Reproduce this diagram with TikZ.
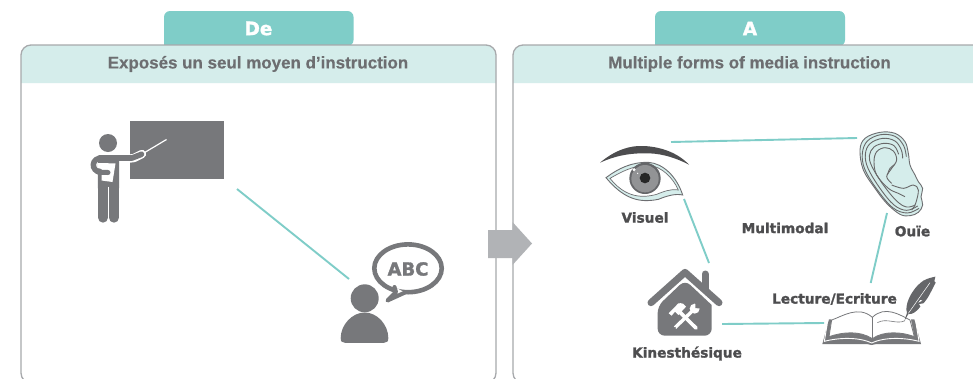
\documentclass[tikz,border=0pt]{standalone}
\usepackage{fontspec}
\setmainfont[BoldFeatures={FakeBold=0.35}]{Liberation Sans}
\newfontfamily\wide[BoldFeatures={FakeBold=1.6}]{DejaVu Sans}
\definecolor{teal}{HTML}{7FCDC8}
\definecolor{pale}{HTML}{D5EDEB}
\definecolor{frame}{HTML}{A7A9AC}
\definecolor{icon}{HTML}{77787B}
\definecolor{darktext}{HTML}{4D4D4F}
\definecolor{titletext}{HTML}{6D6E71}
\definecolor{arrowgrey}{HTML}{B1B3B6}
\tikzset{
  link/.style={draw=teal,line width=1.9pt},
  panel/.style={draw=frame,line width=1.3pt,rounded corners=10pt},
  tabshape/.style={fill=teal,rounded corners=6pt},
  tabtext/.style={text=white,font=\wide\fontsize{18.5}{20}\selectfont\bfseries,inner sep=0pt},
  titlelabel/.style={text=titletext,font=\fontsize{16.95}{18}\selectfont\bfseries,inner sep=0pt},
  iconlabel/.style={text=darktext,font=\wide\fontsize{13.7}{15}\selectfont\bfseries,inner sep=0pt},
  zoomframe/.style n args={2}{shift={(#1,#2)},x=0.33333pt,y=-0.33333pt},
  earline/.style={draw=darktext!85,line width=0.9pt}
}
\begin{document}
\begin{tikzpicture}[x=1pt,y=-1pt]
\useasboundingbox (0,0) rectangle (973,378);
\clip (0,0) rectangle (973,378);
\fill[white] (0,0) rectangle (973,378);
% tabs
\fill[tabshape] (164,46) -- (164,11) -- (353.5,11) -- (353.5,46) [sharp corners] -- cycle;
\fill[tabshape] (655,46) -- (655,11) -- (845,11) -- (845,46) [sharp corners] -- cycle;
\node[tabtext] (detab) at (258.5,28.5) {De};
\node[tabtext] (atab) at (750,28.5) {A};
% header bands
\fill[pale,rounded corners=10pt] (21,83) [sharp corners] -- (21,60) [rounded corners=10pt] -- (21,45) -- (496,45) [sharp corners] -- (496,60) -- (496,83) -- cycle;
\fill[pale,rounded corners=10pt] (513,83) [sharp corners] -- (513,60) [rounded corners=10pt] -- (513,45) -- (995,45) [sharp corners] -- (995,83) -- cycle;
% panels
\draw[panel] (21,45) rectangle (496,383);
\draw[panel] (513,45) rectangle (995,383);
\node[titlelabel] (lefttitle) at (258,64) {Exposés un seul moyen d’instruction};
\node[titlelabel] (righttitle) at (749.5,64) {Multiple forms of media instruction};
% central arrow
\fill[arrowgrey] (488,230) -- (512.5,230) -- (512.5,222) -- (532,243.5) -- (512.5,265) -- (512.5,258) -- (488,258) -- cycle;
% teacher
\fill[icon] (129.7,120.7) rectangle (223.7,179);
\draw[white,line width=1.2pt] (143,153.5) -- (166.5,139.5);
\draw[white,line width=8.3pt,line cap=round,line join=round] (130,158.5) -- (134,158) -- (142,154);
\fill[icon] (108,143) circle[radius=9];
\draw[icon,line width=5.6pt,line cap=round,line join=round] (112,158) -- (132,158) -- (141.5,154.3);
\draw[icon,line width=10.4pt,line cap=round] (103,180) -- (103,217.5);
\draw[icon,line width=10.4pt,line cap=round] (113.8,180) -- (113.8,217.5);
\fill[icon,rounded corners=2pt] (97.8,155) -- (119,155) -- (119,190) -- (97.8,190) -- cycle;
\draw[icon,line width=5.5pt,line cap=round] (103,158) .. controls (91,157) and (90,171) .. (101,172.5);
\fill[white] (101.5,163) -- (115.5,163.5) -- (112.5,182) -- (101.5,180.5) -- cycle;
\fill[white] (97.5,163) -- (101.8,163) -- (101.8,169) -- (97.5,168) -- cycle;
\draw[icon,line width=5pt,line cap=round] (99,172.3) -- (108,172.5);
\draw[white,line width=1.1pt] (108.4,186.5) -- (108.4,224);
% student
\fill[icon] (364.7,298.3) circle[radius=14];
\fill[icon] (340.7,338) .. controls (340.7,325) and (352,312.5) .. (364.7,312.5) .. controls (377.5,312.5) and (388.3,325) .. (388.3,338) .. controls (388.3,341.5) and (387,342.8) .. (384,342.8) -- (345,342.8) .. controls (342,342.8) and (340.7,341.5) .. (340.7,338) -- cycle;
\draw[icon,line width=4.6pt] (408,268.3) ellipse[x radius=33.7,y radius=23.9];
\draw[icon,fill=white,line width=4pt,line join=round,line cap=round] (394.5,287) -- (396,292) -- (387.5,300.5) -- (405,292.5);
\node[text=icon,font=\wide\fontsize{18}{20}\selectfont\bfseries,inner sep=0pt] (abc) at (408,269) {ABC};
% eye
\begin{scope}[zoomframe={595}{140}]
  \fill[darktext] (15,68) .. controls (60,30) and (105,16) .. (145,18) .. controls (200,20) and (250,40) .. (282,74) .. controls (235,50) and (190,38) .. (145,40) .. controls (95,40) and (55,50) .. (15,68) -- cycle;
  \draw[titletext,fill=pale,line width=0.9pt] (33,113) .. controls (70,85) and (110,66) .. (160,67) .. controls (205,70) and (245,110) .. (263,165) .. controls (240,160) and (215,168) .. (190,178) .. controls (130,190) and (85,175) .. (33,113) -- cycle;
  \draw[titletext,fill=white,line width=0.7pt] (45,115) .. controls (80,95) and (115,76) .. (160,76) .. controls (200,78) and (235,115) .. (250,150) .. controls (225,146) and (205,155) .. (185,163) .. controls (130,178) and (85,165) .. (45,115) -- cycle;
  \fill[icon!85!black] (150,115) circle[radius=47];
  \fill[icon!80!white] (150,116) circle[radius=41];
  \fill[black!85] (150,114) circle[radius=16];
  \fill[white] (117,89) circle[radius=5];
  \fill[white] (128,100) circle[radius=2];
\end{scope}
% ear
\begin{scope}[zoomframe={850}{125}]
  \draw[titletext,fill=pale,line width=0.9pt] plot[smooth cycle,tension=0.6] coordinates {(30,75) (45,40) (90,22) (135,25) (165,50) (175,85) (180,120) (195,150) (205,170) (218,190) (213,215) (218,240) (205,262) (180,272) (150,268) (110,235) (75,190) (40,135)};
  \draw[earline] plot[smooth,tension=0.6] coordinates {(207,250) (172,264) (128,248) (80,192) (44,132) (37,85) (52,48) (92,29) (135,34) (161,62) (169,95)};
  \draw[earline] plot[smooth,tension=0.6] coordinates {(203,243) (170,256) (132,240) (90,190) (54,130) (46,88) (60,56) (98,40) (135,48) (154,75) (158,100)};
  \draw[earline] plot[smooth,tension=0.6] coordinates {(196,240) (170,246) (140,228) (100,180) (66,125) (58,92) (72,66) (102,55) (132,62) (146,88)};
  \draw[earline] plot[smooth,tension=0.6] coordinates {(165,215) (145,205) (115,190) (80,150) (72,110) (80,80) (105,68) (130,78) (140,105) (125,130) (110,155) (125,175)};
  \draw[earline] plot[smooth,tension=0.6] coordinates {(112,150) (120,130) (135,118)};
  \draw[earline] plot[smooth,tension=0.6] coordinates {(125,180) (160,190) (190,180) (205,195) (197,235) (185,255)};
\end{scope}
% house
\begin{scope}[zoomframe={620}{250}]
  \draw[icon,line width=7pt,line cap=round,line join=round] (93,158) -- (195,67) -- (297,158);
  \draw[icon,line width=7pt,line cap=round] (255,72) -- (255,118);
  \fill[icon,rounded corners=7pt] (113,168) -- (195,90) [sharp corners] -- (275,165) [rounded corners=7pt] -- (275,257) -- (113,257) -- cycle;
  \draw[white,line width=3.4pt] (165,233) -- (222,178);
  \fill[white] (224,176) circle[radius=15];
  \fill[icon] (226,160) -- (243,160) -- (243,176) -- (226,174) -- cycle;
  \fill[icon] (165,233) circle[radius=2.5];
  \draw[white,line width=3.6pt,line cap=round] (228,234) -- (175,182);
  \fill[white] (146,190) -- (175,160) .. controls (185,158) and (195,162) .. (198,170) -- (175,195) -- (165,185) -- (155,197) -- cycle;
\end{scope}
% book
\begin{scope}[zoomframe={815}{270}]
  \fill[icon] (42,148) -- (22,222) -- (155,222) -- (170,225) -- (185,222) -- (318,222) -- (298,148) -- cycle;
  \draw[white,line width=0.9pt] (36,165) -- (28,214) .. controls (70,203) and (130,200) .. (170,219) .. controls (210,200) and (270,203) .. (312,214) -- (304,165);
  \fill[white] (50,146) -- (42,200) .. controls (85,185) and (135,182) .. (172,206) .. controls (205,182) and (260,185) .. (298,200) -- (287,146) -- (172,118) -- cycle;
  \draw[icon,line width=0.8pt] (50,150) .. controls (80,140) and (130,105) .. (172,142) .. controls (210,105) and (255,135) .. (285,150);
  \draw[icon,line width=0.8pt] (50,150) -- (42,200) .. controls (85,185) and (135,182) .. (172,206) .. controls (205,182) and (260,185) .. (298,200) -- (285,150);
  \draw[icon,line width=1.1pt] (172,142) -- (172,206);
  \draw[icon,line width=0.6pt] (187,158) .. controls (215,142) and (245,165) .. (270,152);
  % feather
  \fill[icon!85!black] (268,153) -- (276,128) .. controls (268,110) and (285,60) .. (325,32) .. controls (340,24) and (352,22) .. (361,20) -- (358,34) -- (362,38) .. controls (350,60) and (340,85) .. (325,100) -- (312,102) -- (316,110) .. controls (305,125) and (290,135) .. (280,132) -- cycle;
  \draw[white,line width=0.5pt] (280,130) -- (345,38);
  \fill[white] (310,98) -- (316,90) -- (322,92) -- cycle;
\end{scope}
% labels
\node[iconlabel] (visuel) at (645,217.5) {Visuel};
\node[iconlabel] (multi) at (785,228) {Multimodal};
\node[iconlabel] (ouie) at (912.5,231) {Ouïe};
\node[iconlabel] (lecture) at (834.5,299) {Lecture/Ecriture};
\node[iconlabel] (kines) at (687,353.5) {Kinesthésique};
% connector ends
\coordinate (boardend) at (237,189);
\coordinate (studentend) at (349,279);
\coordinate (eyetop) at (671,142);
\coordinate (earleft) at (857,138);
\coordinate (eyelow) at (684,199);
\coordinate (housetop) at (709,263);
\coordinate (earlow) at (887,213);
\coordinate (bookpen) at (870.7,283);
\coordinate (houseright) at (722,324);
\coordinate (bookleft) at (824,323);
\draw[link] (boardend) -- (studentend);
\draw[link] (eyetop) -- (earleft);
\draw[link] (eyelow) -- (housetop);
\draw[link] (earlow) -- (bookpen);
\draw[link] (houseright) -- (bookleft);
\end{tikzpicture}
\end{document}
